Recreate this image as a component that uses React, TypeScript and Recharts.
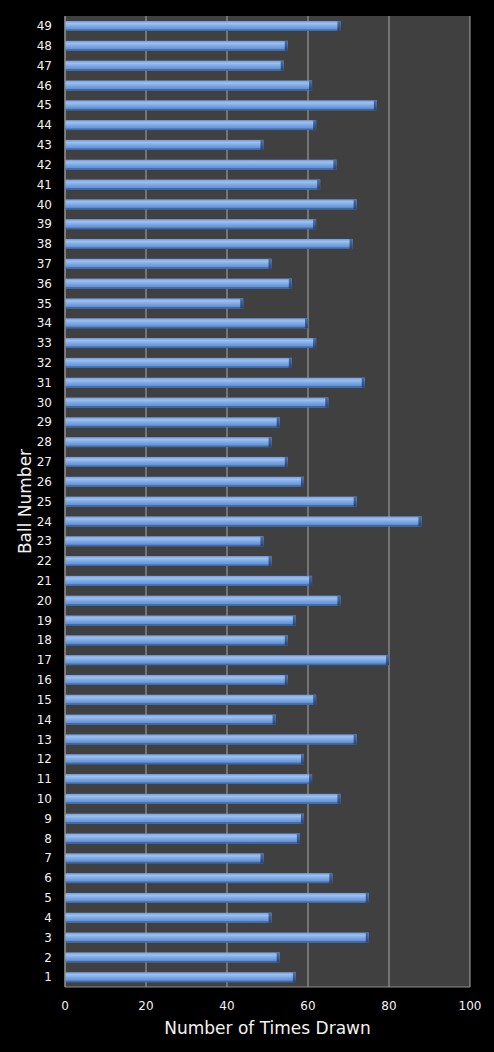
import React from 'react';
import { BarChart, Bar, XAxis, YAxis, CartesianGrid } from 'recharts';

const balls = [
  1, 2, 3, 4, 5, 6, 7, 8, 9, 10, 11, 12, 13, 14, 15, 16, 17, 18, 19, 20, 21, 22, 23, 24, 25,
  26, 27, 28, 29, 30, 31, 32, 33, 34, 35, 36, 37, 38, 39, 40, 41, 42, 43, 44, 45, 46, 47, 48, 49,
];
const timesDrawn = [
  57, 53, 75, 51, 75, 66, 49, 58, 59, 68, 61, 59, 72, 52, 62, 55, 80, 55, 57, 68, 61, 51, 49, 88, 72,
  59, 55, 51, 53, 65, 74, 56, 62, 60, 44, 56, 51, 71, 62, 72, 63, 67, 49, 62, 77, 61, 54, 55, 68,
];
const xTicks = [0, 20, 40, 60, 80, 100];

const data = balls.map((b, i) => ({ ball: String(b), value: timesDrawn[i] }));

const FONT = '"DejaVu Sans", Verdana, sans-serif';
const TEXT = '#f2f2f2';

const BarShape = (props: any) => {
  const { x, y, width, height } = props;
  if (!width || width <= 0) return null;
  const cap = Math.min(3, width);
  return (
    <g>
      <rect x={x} y={y} width={width} height={height} fill="url(#barGrad)" />
      <rect x={x} y={y + height - 1.5} width={width} height={1.5} fill="#3f6aa6" />
      <rect x={x + width - cap} y={y} width={cap} height={height} fill="url(#capGrad)" />
    </g>
  );
};

export default function App() {
  return (
    <div style={{ position: 'absolute', left: 0, top: 0, width: 494, height: 1052, background: '#000' }}>
      <BarChart
        width={494}
        height={1052}
        data={data}
        layout="vertical"
        margin={{ top: 16, right: 24, bottom: 0, left: 0 }}
        barSize={10}
      >
        <defs>
          <linearGradient id="barGrad" x1="0" y1="0" x2="0" y2="1">
            <stop offset="0%" stopColor="#6f9be0" />
            <stop offset="25%" stopColor="#9cc0f0" />
            <stop offset="55%" stopColor="#7aa6e2" />
            <stop offset="100%" stopColor="#5583c8" />
          </linearGradient>
          <linearGradient id="capGrad" x1="0" y1="0" x2="0" y2="1">
            <stop offset="0%" stopColor="#4a72ad" />
            <stop offset="100%" stopColor="#27446f" />
          </linearGradient>
        </defs>
        <CartesianGrid horizontal={false} stroke="#a8a8a8" fill="#404040" />
        <XAxis
          type="number"
          domain={[0, 100]}
          ticks={xTicks}
          height={65}
          tickLine={false}
          tickSize={0}
          tickMargin={14}
          axisLine={{ stroke: '#8c8c8c' }}
          tick={{ fill: TEXT, fontSize: 12, fontFamily: FONT }}
          label={{
            value: 'Number of Times Drawn',
            position: 'insideBottom',
            offset: 18,
            style: { fill: TEXT, fontSize: 17, fontFamily: FONT },
          }}
        />
        <YAxis
          type="category"
          dataKey="ball"
          reversed
          width={65}
          interval={0}
          tickLine={false}
          tickSize={0}
          tickMargin={13}
          axisLine={{ stroke: '#8c8c8c' }}
          tick={{ fill: TEXT, fontSize: 12, fontFamily: FONT }}
          label={{
            value: 'Ball Number',
            angle: -90,
            position: 'insideLeft',
            offset: 25,
            style: { fill: TEXT, fontSize: 17, fontFamily: FONT, textAnchor: 'middle' },
          }}
        />
        <Bar dataKey="value" shape={<BarShape />} isAnimationActive={false} />
      </BarChart>
    </div>
  );
}
